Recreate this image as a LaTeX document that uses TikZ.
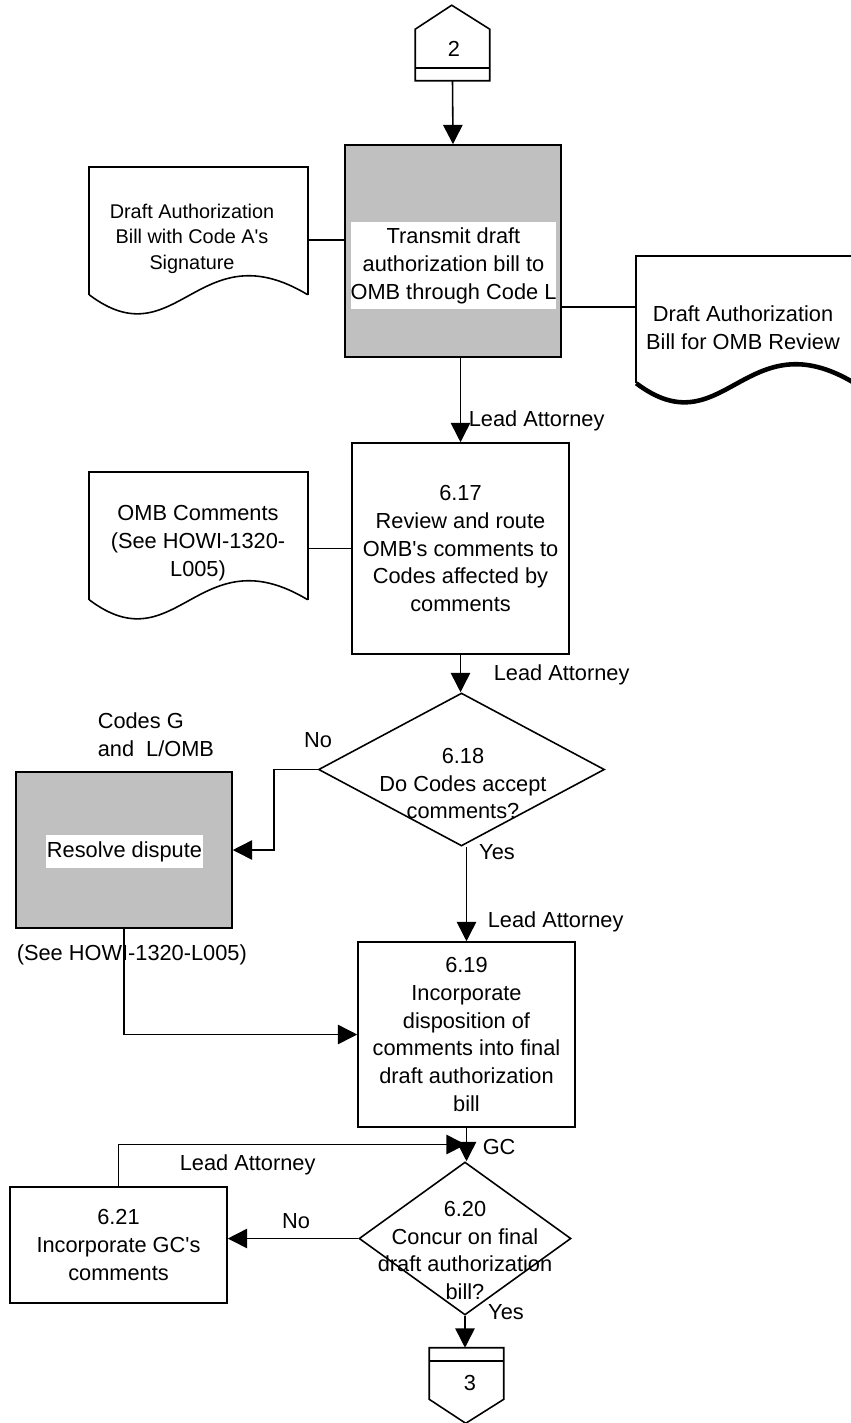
\documentclass[tikz,border=0pt]{standalone}
\usepackage{fontspec}
\setmainfont{Liberation Sans}
\usetikzlibrary{arrows.meta, positioning, shapes.geometric, calc}
\definecolor{ShadeGray}{RGB}{192,192,192}
\newcommand{\flowfont}{\fontsize{12.4pt}{15.9pt}\selectfont}
\newcommand{\docfont}{\fontsize{11.3pt}{14.5pt}\selectfont}
% document symbol: straight sides plus wavy bottom
\newcommand{\docoutline}[2][]{%
  \draw (#2.south west) -- (#2.north west) -- (#2.north east) -- (#2.south east);
  \draw[#1] (#2.south west) .. controls ($(#2.south west)!0.4!(#2.south east)+(0,66)$) and ($(#2.south west)!0.5!(#2.south east)+(0,-66)$) .. (#2.south east);}

\begin{document}
\begin{tikzpicture}[x=0.02cm, y=-0.02cm, line width=0.9pt,
        box/.style={rectangle, draw, minimum width=4.34cm, font=\flowfont, align=center, inner sep=0pt},
        grayproc/.style={rectangle, draw, fill=ShadeGray, minimum width=4.32cm},
        tag/.style={fill=white, font=\flowfont, align=center, inner sep=0pt},
        decision/.style={diamond, draw, inner sep=0pt},
        doc/.style={rectangle, minimum width=4.34cm, minimum height=2.52cm, inner sep=0pt},
        conn/.style={rectangle, minimum width=1.46cm, minimum height=1cm, inner sep=0pt},
        txt/.style={font=\flowfont, align=center, inner sep=0pt},
        arrow/.style={-{Triangle[length=11pt, width=11pt]}}
    ]
        \path[use as bounding box] (0,0) rectangle (851,1423);
        \clip (0,0) rectangle (851,1423);

        % Off-page connector 2
        \node[conn] (c2) at (452.5,55) {};
        \draw (c2.south west) -- (c2.north west) -- ++(36.5,-24) -- (c2.north east) -- (c2.south east) -- cycle;
        \draw ($(c2.south west)+(0,-13)$) -- ($(c2.south east)+(0,-13)$);
        \node[txt] (c2text) at (454,49) {2};

        % Transmit
        \node[grayproc, minimum height=4.24cm] (send) at (453,251) {};
        \node[tag, minimum width=4.06cm, minimum height=1.74cm] (sendtext) at (453.5,265.5) {Transmit draft\\authorization bill to\\OMB through Code L};

        \node[doc] (docA) at (198.5,231) {};
        \docoutline{docA}
        \node[txt, font=\docfont] (docAtext) at (192,238.5) {Draft Authorization\\Bill with Code A\textquotesingle s\\Signature};

        \node[doc] (docB) at (745.5,319.5) {};
        \docoutline[line width=2.6pt]{docB}
        \node[txt] (docBtext) at (743,327.5) {Draft Authorization\\Bill for OMB Review};

        % 6.17
        \node[box, minimum height=4.22cm] (r617) at (460.5,548.5) {6.17\\Review and route\\OMB\textquotesingle s comments to\\Codes affected by\\comments};
        \node[doc] (docC) at (198.5,536) {};
        \docoutline{docC}
        \node[txt] (docCtext) at (198,543) {OMB Comments\\(See HOWI-1320-\\L005)};

        % 6.18
        \node[decision, minimum width=5.72cm, minimum height=3.06cm] (d618) at (461.5,769.5) {};
        \node[txt] (d618text) at (463,783.5) {6.18\\Do Codes accept\\comments?};

        % Resolve dispute
        \node[grayproc, minimum height=3.12cm] (resolve) at (124,850) {};
        \node[tag, minimum width=3.14cm, minimum height=0.66cm] (resolvetext) at (124.5,851.5) {Resolve dispute};
        \node[txt, anchor=west, align=left] (codes) at (97,735) {Codes G\\and\ \ L/OMB};
        \node[txt, anchor=west] (howi) at (16,955) {(See HOWI-1320-L005)};

        % 6.19
        \node[box, minimum height=3.70cm] (r619) at (466.5,1034.5) {6.19\\Incorporate\\disposition of\\comments into final\\draft authorization\\bill};

        % 6.20 and 6.21
        \node[decision, minimum width=4.24cm, minimum height=3.06cm] (d620) at (465,1238.5) {};
        \node[txt] (d620text) at (465,1250.5) {6.20\\Concur on final\\draft authorization\\bill?};
        \node[box, minimum height=2.32cm] (r621) at (118.5,1245) {6.21\\Incorporate GC\textquotesingle s\\comments};

        % Off-page connector 3
        \node[conn] (c3) at (466.5,1373.5) {};
        \draw (c3.north west) -- (c3.south west) -- ++(36.5,24) -- (c3.south east) -- (c3.north east) -- cycle;
        \draw ($(c3.north west)+(0,13)$) -- ($(c3.north east)+(0,13)$);
        \node[txt] (c3text) at (470,1383) {3};

        \coordinate (gcjoin) at ($(r619.south)!0.5!(d620.north)$);

        % Connectors
        \draw[arrow] (c2.south) -- (send.north);
        \draw ([yshift=-5.1pt]docA.east) -- ([yshift=-5.1pt]docA.east -| send.west);
        \draw ([yshift=7.1pt]docB.west) -- ([yshift=7.1pt]docB.west -| send.east);
        \draw[arrow] (send.south -| r617.north) -- (r617.north);
        \draw (r617.west) -- (r617.west -| docC.east);
        \draw[arrow] (r617.south) -- (r617.south |- d618.north);
        \draw[arrow] (r619.north |- d618.south) -- (r619.north);
        \draw[arrow] (d618.west) -- ++(-44,0) |- (resolve.east);
        \draw[arrow] (resolve.south) |- (r619.west);
        \draw[arrow] (r619.south) -- (r619.south |- d620.north);
        \draw[arrow] (r621.north) |- (gcjoin);
        \draw[arrow] (d620.west) -- (d620.west -| r621.east);
        \draw[arrow] (d620.south) -- (d620.south |- c3.north);

        % Role and branch labels
        \node[txt, anchor=west] (lead1) at (468,421) {Lead Attorney};
        \node[txt, anchor=west] (lead2) at (493,675) {Lead Attorney};
        \node[txt, anchor=west] (lead3) at (487,922) {Lead Attorney};
        \node[txt, anchor=west] (lead4) at (179,1165) {Lead Attorney};
        \node[txt, anchor=west] (gc) at (482,1147) {GC};
        \node[txt] (no618) at (318,740) {No};
        \node[txt] (yes618) at (497,852) {Yes};
        \node[txt] (no620) at (296,1221) {No};
        \node[txt] (yes620) at (506,1312) {Yes};
    \end{tikzpicture}
\end{document}
